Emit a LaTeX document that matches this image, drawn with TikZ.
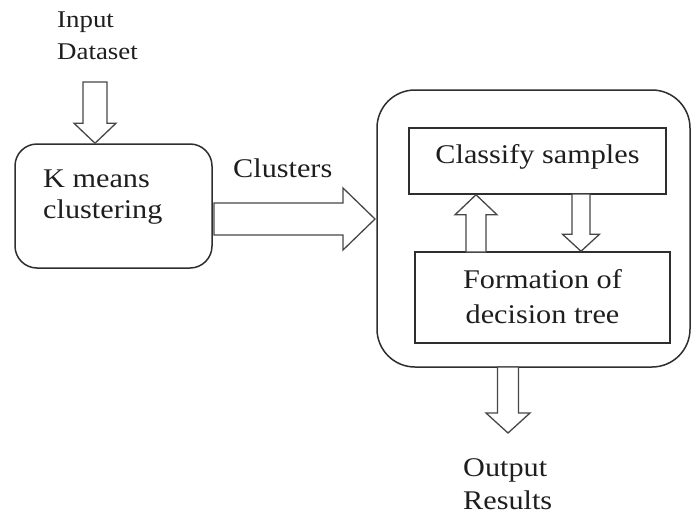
\documentclass[tikz,border=0pt]{standalone}
\usepackage{fontspec}
\setmainfont[FakeStretch=1.12]{Liberation Serif}
\usetikzlibrary{calc}

\definecolor{inkline}{HTML}{2E2E2E}
\definecolor{arrowline}{HTML}{474747}
\definecolor{inktext}{HTML}{1E1E1E}

% hollow block arrow: #1 start, #2 tip, #3 shaft half-width,
% #4 head half-width, #5 head length
\newcommand\fatarrow[5]{%
  \coordinate (fa-h) at ($(#2)!#5!(#1)$);
  \draw[blockarrow]
    ($(#1)!#3!90:(#2)$) -- ($(fa-h)!#3!-90:(#1)$) -- ($(fa-h)!#4!-90:(#1)$)
    -- (#2)
    -- ($(fa-h)!#4!90:(#1)$) -- ($(fa-h)!#3!90:(#1)$) -- ($(#1)!#3!-90:(#2)$)
    -- cycle;
}

\tikzset{
  roundbox/.style={draw=inkline, line width=1.5pt, inner sep=0pt},
  plainbox/.style={draw=inkline, line width=1.5pt, inner sep=0pt},
  blockarrow/.style={draw=arrowline, line width=1.3pt, fill=white, line join=miter},
  label/.style={inner sep=0pt, text=inktext, font=\fontsize{27}{35}\selectfont},
  smalllabel/.style={inner sep=0pt, text=inktext, font=\fontsize{24}{32}\selectfont},
}

\begin{document}
\begin{tikzpicture}[x=1pt, y=-1pt]
  \useasboundingbox (0,0) rectangle (693,514);

  % boxes
  \node[roundbox, rounded corners=22pt, minimum width=197pt, minimum height=124pt]
    (km) at (113.5,206) {};
  \node[roundbox, rounded corners=38pt, minimum width=313pt, minimum height=277pt]
    (big) at (533.5,228.5) {};
  \node[plainbox, minimum width=257pt, minimum height=66pt] (cls) at (537.5,161) {};
  \node[plainbox, minimum width=255pt, minimum height=91pt] (form) at (542.5,297.5) {};

  % texts (base anchor sits on the last line)
  \node[smalllabel, anchor=base west, align=left] (input) at (57,59) {Input\\Dataset};
  \node[label, anchor=base west, align=left] (kmtext) at (43,218) {K means\\[-4pt]clustering};
  \node[label, anchor=base west] (clusters) at (233,177) {Clusters};
  \node[label, anchor=base] (clstext) at (537.5,163) {Classify samples};
  \node[label, anchor=base, align=center] (formtext) at (542.5,323) {Formation of\\decision tree};
  \node[label, anchor=base west, align=left] (output) at (463,509) {Output\\[-2pt]Results};

  % arrow end points
  \coordinate (in-a) at (95,82);
  \coordinate (in-b) at (in-a |- km.north);
  \coordinate (cl-a) at (214,219);
  \coordinate (cl-b) at (375,219);
  \coordinate (up-a) at (476,252);
  \coordinate (up-b) at (up-a |- cls.south);
  \coordinate (dn-a) at (581,194);
  \coordinate (dn-b) at (dn-a |- form.north);
  \coordinate (out-a) at (508,367);
  \coordinate (out-b) at (508,433);

  % block arrows
  \fatarrow{in-a}{in-b}{12pt}{21pt}{20pt}
  \fatarrow{cl-a}{cl-b}{16pt}{31pt}{32pt}
  \fatarrow{up-a}{up-b}{10pt}{21pt}{20pt}
  \fatarrow{dn-a}{dn-b}{9pt}{18.5pt}{17pt}
  \fatarrow{out-a}{out-b}{10.5pt}{22pt}{20pt}
\end{tikzpicture}
\end{document}
